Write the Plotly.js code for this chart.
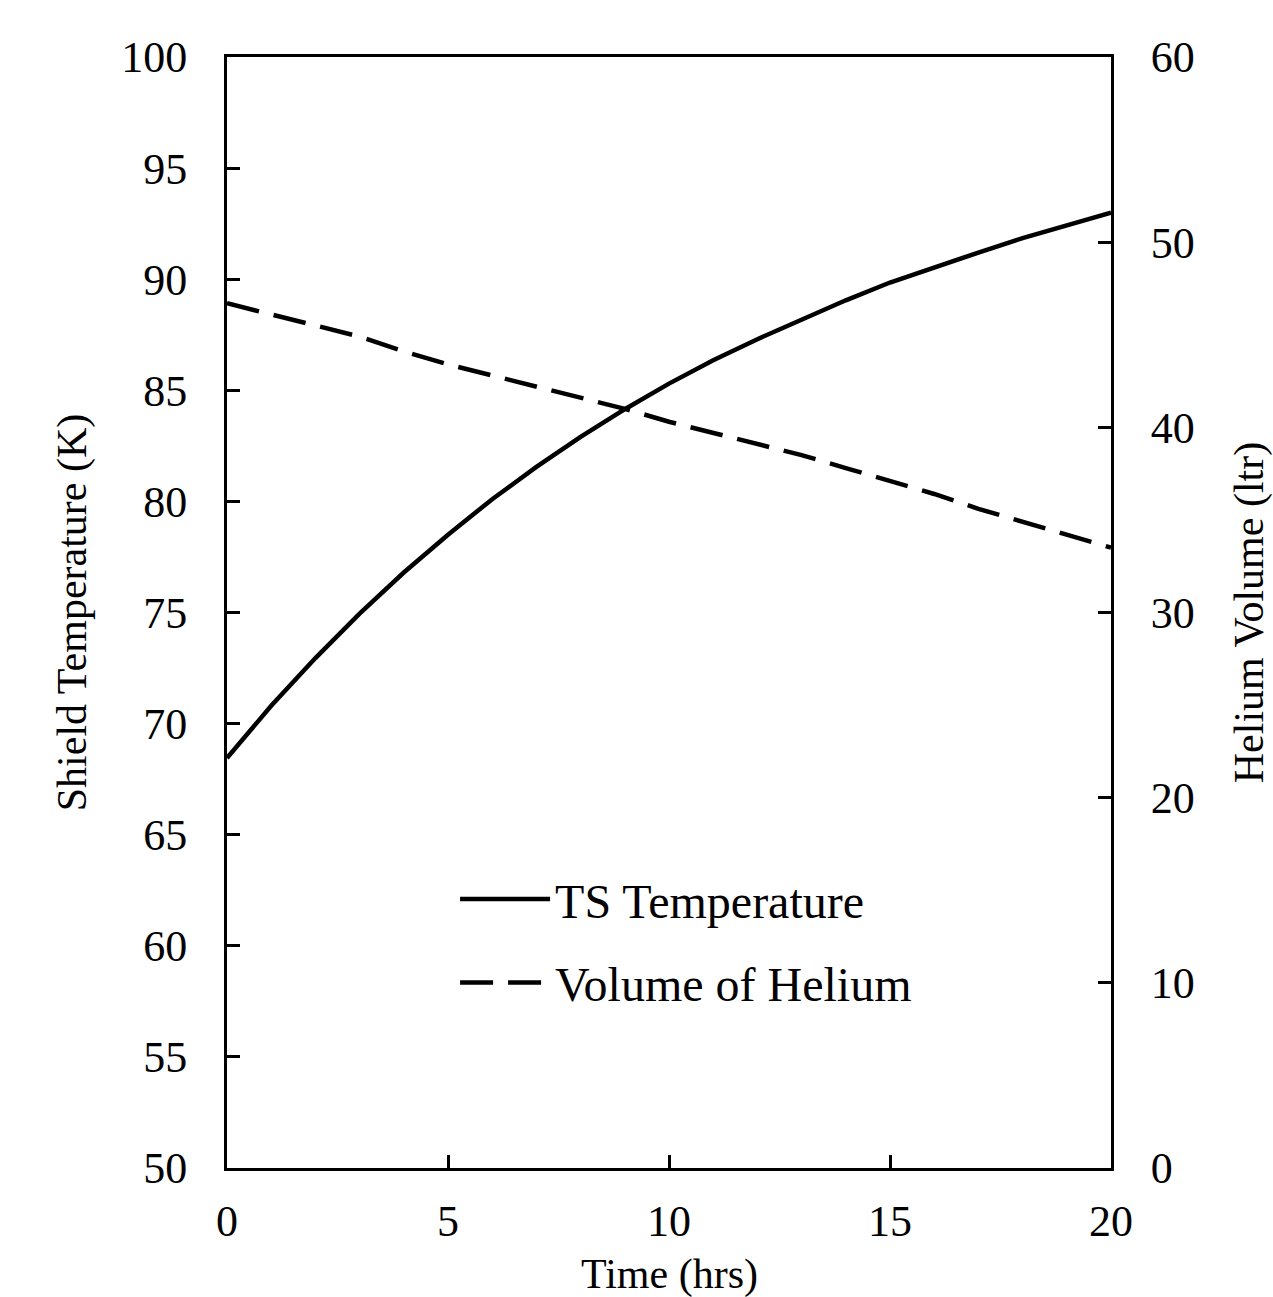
<!DOCTYPE html>
<html>
<head>
<meta charset="utf-8">
<script src="https://cdn.plot.ly/plotly-3.0.1.min.js"></script>
<style>html,body{margin:0;padding:0;background:#fff;}</style>
</head>
<body>
<div id="chart" style="width:1273px;height:1297px;"></div>
<script>
// Data
const timeHrs = [0,0.5,1,2,3,4,5,6,7,8,9,10,11,12,13,14,15,16,17,18,19,20];
const tsTemperature = [68.45,69.65,70.8,72.95,74.95,76.8,78.5,80.1,81.55,82.9,84.15,85.3,86.35,87.3,88.2,89.05,89.85,90.55,91.2,91.85,92.45,93.0];
const heliumVolume = [46.7,46.4,46.1,45.5,44.9,44.1,43.4,42.8,42.2,41.6,41.0,40.3,39.7,39.1,38.5,37.8,37.1,36.4,35.6,34.9,34.2,33.5];
const seriesNames = ["TS Temperature", "Volume of Helium"];
const xTicks = [0,5,10,15,20];
const yTicks = [50,55,60,65,70,75,80,85,90,95,100];
const y2Ticks = [0,10,20,30,40,50,60];

const FONT = "Liberation Serif, Times New Roman, serif";

const traces = [
  {
    x: timeHrs, y: tsTemperature, name: seriesNames[0], type: "scatter", mode: "lines",
    line: {color: "#000", width: 4.5},
    legendgroup: "a", yaxis: "y"
  },
  {
    x: timeHrs, y: heliumVolume, name: seriesNames[1], type: "scatter", mode: "lines",
    line: {color: "#000", width: 4.5, dash: "33px,15px"},
    legendgroup: "b", yaxis: "y2"
  }
];

const axisCommon = {
  showgrid: false, zeroline: false, showline: true, linecolor: "#000", linewidth: 3,
  ticks: "inside", ticklen: 13, tickwidth: 3, tickcolor: "#000",
  tickfont: {family: FONT, size: 44, color: "#000"}
};

const layout = {
  width: 1273, height: 1297,
  margin: {l: 227, r: 162, t: 57, b: 129, autoexpand: false},
  paper_bgcolor: "#fff", plot_bgcolor: "#fff",
  showlegend: true,
  legend: {
    x: 0.258, y: 0.276, xanchor: "left", yanchor: "top",
    font: {family: FONT, size: 48, color: "#000"},
    bgcolor: "rgba(0,0,0,0)", borderwidth: 0,
    itemwidth: 90, tracegroupgap: 18, traceorder: "grouped"
  },
  xaxis: Object.assign({}, axisCommon, {
    range: [0, 20], tickvals: xTicks, mirror: true, ticklabelstandoff: 12
  }),
  yaxis: Object.assign({}, axisCommon, {
    range: [50, 100], tickvals: yTicks, mirror: true, ticklabelstandoff: 28,
    title: {text: "Shield Temperature (K)", font: {family: FONT, size: 42, color: "#000"}, standoff: 22}
  }),
  yaxis2: Object.assign({}, axisCommon, {
    range: [0, 60], tickvals: y2Ticks, overlaying: "y", side: "right", ticklabelstandoff: 28,
    title: {text: "Helium Volume (ltr)", font: {family: FONT, size: 42, color: "#000"}, standoff: 50}
  }),
  annotations: [{
    text: "Time (hrs)", xref: "paper", yref: "paper", x: 0.5, y: -0.0963,
    xanchor: "center", yanchor: "middle", showarrow: false,
    font: {family: FONT, size: 42, color: "#000"}
  }]
};

Plotly.newPlot("chart", traces, layout, {displayModeBar: false, staticPlot: true});
</script>
</body>
</html>
